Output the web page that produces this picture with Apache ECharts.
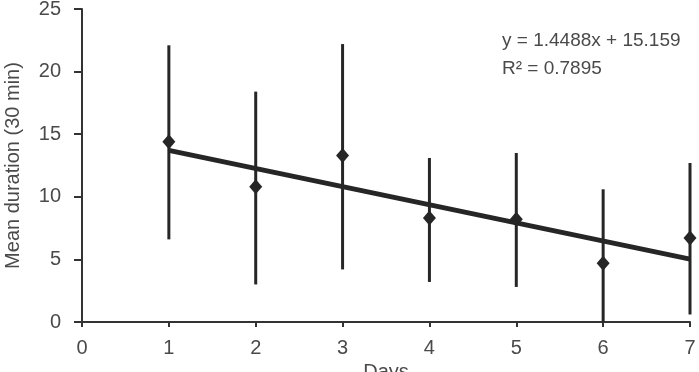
<!DOCTYPE html>
<html>
<head>
<meta charset="utf-8">
<script src="https://cdn.jsdelivr.net/npm/echarts@6/dist/echarts.min.js"></script>
<style>
  html, body { margin: 0; padding: 0; background: #fff; }
  #chart { width: 699px; height: 372px; }
</style>
</head>
<body>
<div id="chart"></div>
<script>
// values
const days = [1, 2, 3, 4, 5, 6, 7]
const means = [14.4, 10.8, 13.3, 8.3, 8.2, 4.7, 6.7]
const errLow = [6.6, 3.0, 4.2, 3.2, 2.8, 0, 0.6]
const errHigh = [22.1, 18.4, 22.2, 13.1, 13.5, 10.6, 12.7]
const trendX = [1, 7]
const trendY = [13.71, 5.02]
const eqText = 'y = 1.4488x + 15.159'
const r2Text = 'R² = 0.7895'

const ink = '#262626'
const textColor = '#4a4a4a'
const font = 'Liberation Sans, Arial, sans-serif'

const chart = echarts.init(document.getElementById('chart'))

chart.setOption({
  animation: false,
  backgroundColor: '#fff',
  textStyle: { fontFamily: font },
  grid: { left: 82, right: 9, top: 9, bottom: 50, containLabel: false, outerBoundsMode: 'none' },
  xAxis: {
    type: 'value',
    min: 0,
    max: 7,
    interval: 1,
    name: 'Days',
    nameLocation: 'middle',
    nameGap: 37,
    nameTextStyle: { color: textColor, fontSize: 20 },
    axisLine: { lineStyle: { color: '#333', width: 2 } },
    axisTick: { length: 5, lineStyle: { color: '#333', width: 2 } },
    axisLabel: { color: textColor, fontSize: 20, margin: 16 },
    splitLine: { show: false },
  },
  yAxis: {
    type: 'value',
    min: 0,
    max: 25,
    interval: 5,
    name: 'Mean duration (30 min)',
    nameLocation: 'middle',
    nameGap: 59,
    nameTextStyle: { color: textColor, fontSize: 20 },
    axisLine: { show: true, lineStyle: { color: '#333', width: 2 } },
    axisTick: { show: true, length: 8, lineStyle: { color: '#333', width: 2 } },
    axisLabel: { color: textColor, fontSize: 20, margin: 21 },
    splitLine: { show: false },
  },
  graphic: [
    {
      type: 'text',
      left: 502,
      top: 31,
      style: { text: eqText, fill: textColor, fontSize: 19, fontFamily: font },
    },
    {
      type: 'text',
      left: 502,
      top: 59,
      style: { text: r2Text, fill: textColor, fontSize: 19, fontFamily: font },
    },
  ],
  series: [
    {
      type: 'custom',
      data: days.map((d, i) => [d, errLow[i], errHigh[i]]),
      renderItem: (params, api) => {
        const lo = api.coord([api.value(0), api.value(1)])
        const hi = api.coord([api.value(0), api.value(2)])
        return {
          type: 'line',
          shape: { x1: lo[0], y1: lo[1], x2: hi[0], y2: hi[1] },
          style: { stroke: ink, lineWidth: 3 },
        }
      },
      z: 2,
    },
    {
      type: 'line',
      data: trendX.map((x, i) => [x, trendY[i]]),
      symbol: 'none',
      lineStyle: { color: ink, width: 5 },
      z: 3,
    },
    {
      type: 'scatter',
      data: days.map((d, i) => [d, means[i]]),
      symbol: 'diamond',
      symbolSize: [13, 15],
      itemStyle: { color: ink, opacity: 1 },
      z: 4,
    },
  ],
})
</script>
</body>
</html>
